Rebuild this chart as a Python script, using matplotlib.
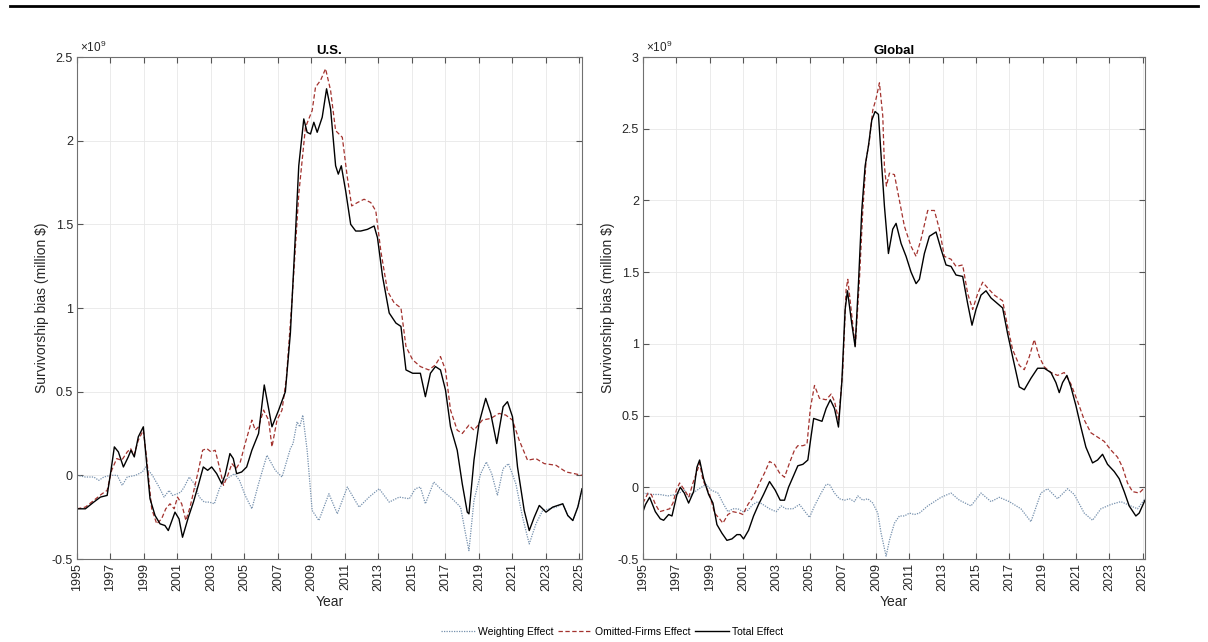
import numpy as np
import matplotlib
matplotlib.use("Agg")
import matplotlib.pyplot as plt
from matplotlib.lines import Line2D

plt.rcParams["font.family"] = ["Liberation Sans", "DejaVu Sans"]
plt.rcParams["axes.unicode_minus"] = False
plt.rcParams["mathtext.fontset"] = "custom"
plt.rcParams["mathtext.rm"] = "Liberation Sans"
plt.rcParams["mathtext.it"] = "Liberation Sans:italic"

# values are in units of 1e9 (million $)

# ---- U.S. ----
us_tot_x = [1995.0, 1995.5, 1996.0, 1996.4, 1996.8, 1997.03, 1997.23, 1997.47, 1997.77, 1998.06,
            1998.22, 1998.42, 1998.66, 1998.96, 1999.16, 1999.36, 1999.66, 1999.96, 2000.25, 2000.45,
            2000.85, 2001.09, 2001.3, 2001.65, 2001.95, 2002.24, 2002.54, 2002.8, 2003.04, 2003.34,
            2003.64, 2003.84, 2004.13, 2004.33, 2004.53, 2004.83, 2005.13, 2005.44, 2005.84, 2006.18,
            2006.64, 2007.04, 2007.44, 2007.74, 2008.04, 2008.24, 2008.54, 2008.74, 2008.94, 2009.14,
            2009.34, 2009.64, 2009.9, 2010.14, 2010.44, 2010.6, 2010.78, 2011.04, 2011.34, 2011.64,
            2011.94, 2012.34, 2012.74, 2012.94, 2013.24, 2013.64, 2014.04, 2014.34, 2014.64, 2015.04,
            2015.5, 2015.8, 2016.1, 2016.4, 2016.7, 2017.0, 2017.3, 2017.7, 2018.0, 2018.3,
            2018.4, 2018.7, 2019.0, 2019.4, 2019.7, 2020.06, 2020.44, 2020.7, 2021.0, 2021.3,
            2021.7, 2022.0, 2022.3, 2022.6, 2023.0, 2023.4, 2024.0, 2024.3, 2024.6, 2024.9,
            2025.15]
us_tot_y = [-0.20, -0.20, -0.16, -0.13, -0.12, 0.03, 0.17, 0.14, 0.05, 0.11,
            0.15, 0.11, 0.23, 0.29, 0.07, -0.14, -0.24, -0.29, -0.30, -0.33,
            -0.22, -0.26, -0.37, -0.25, -0.16, -0.06, 0.05, 0.03, 0.05, 0.01,
            -0.05, 0.0, 0.13, 0.10, 0.01, 0.02, 0.05, 0.15, 0.25, 0.54,
            0.29, 0.39, 0.50, 0.85, 1.44, 1.85, 2.13, 2.05, 2.04, 2.11,
            2.05, 2.14, 2.31, 2.19, 1.85, 1.80, 1.85, 1.70, 1.50, 1.46,
            1.46, 1.47, 1.49, 1.42, 1.19, 0.97, 0.91, 0.89, 0.63, 0.61,
            0.61, 0.47, 0.61, 0.65, 0.63, 0.51, 0.29, 0.15, -0.05, -0.22,
            -0.23, 0.09, 0.31, 0.46, 0.37, 0.19, 0.41, 0.44, 0.35, 0.05,
            -0.21, -0.33, -0.25, -0.18, -0.22, -0.19, -0.17, -0.24, -0.27, -0.19,
            -0.08]

us_omit_x = [1995.0, 1995.5, 1996.0, 1996.5, 1996.8, 1997.07, 1997.37, 1997.67, 1998.0, 1998.2,
             1998.4, 1998.66, 1998.96, 1999.16, 1999.46, 1999.76, 2000.05, 2000.3, 2000.55, 2000.8,
             2001.0, 2001.25, 2001.5, 2001.75, 2002.0, 2002.25, 2002.5, 2002.75, 2003.0, 2003.25,
             2003.5, 2003.75, 2004.0, 2004.25, 2004.5, 2004.75, 2005.04, 2005.44, 2005.64, 2005.84,
             2006.14, 2006.44, 2006.64, 2006.94, 2007.24, 2007.5, 2007.84, 2008.24, 2008.64, 2009.04,
             2009.24, 2009.54, 2009.84, 2010.14, 2010.44, 2010.84, 2011.14, 2011.4, 2011.74, 2012.14,
             2012.54, 2012.84, 2013.14, 2013.54, 2013.94, 2014.34, 2014.64, 2015.04, 2015.5, 2016.0,
             2016.4, 2016.7, 2017.0, 2017.3, 2017.7, 2018.0, 2018.4, 2018.7, 2019.2, 2019.7,
             2020.2, 2020.6, 2021.0, 2021.4, 2021.9, 2022.4, 2022.9, 2023.6, 2024.2, 2024.7,
             2025.15]
us_omit_y = [-0.20, -0.19, -0.15, -0.11, -0.09, 0.03, 0.10, 0.09, 0.14, 0.16,
             0.12, 0.21, 0.27, 0.10, -0.20, -0.29, -0.26, -0.20, -0.17, -0.20,
             -0.13, -0.17, -0.27, -0.19, -0.08, 0.03, 0.15, 0.16, 0.14, 0.15,
             0.05, -0.06, 0.0, 0.07, 0.04, 0.08, 0.19, 0.33, 0.27, 0.29,
             0.39, 0.33, 0.17, 0.33, 0.39, 0.58, 1.05, 1.68, 2.08, 2.18,
             2.32, 2.36, 2.43, 2.30, 2.06, 2.02, 1.78, 1.61, 1.63, 1.65,
             1.63, 1.58, 1.34, 1.10, 1.03, 1.00, 0.77, 0.69, 0.65, 0.63,
             0.66, 0.71, 0.63, 0.39, 0.27, 0.25, 0.30, 0.27, 0.33, 0.34,
             0.37, 0.36, 0.33, 0.21, 0.09, 0.10, 0.07, 0.06, 0.02, 0.01,
             0.0]

us_wgt_x = [1995.0, 1995.5, 1996.0, 1996.3, 1996.6, 1997.0, 1997.4, 1997.7, 1998.0, 1998.5,
            1998.9, 1999.1, 1999.5, 1999.9, 2000.2, 2000.5, 2000.7, 2001.0, 2001.2, 2001.4,
            2001.7, 2002.0, 2002.3, 2002.6, 2002.9, 2003.2, 2003.5, 2003.8, 2004.1, 2004.4,
            2004.7, 2005.04, 2005.44, 2005.84, 2006.34, 2006.84, 2007.24, 2007.74, 2007.9, 2008.14,
            2008.3, 2008.48, 2008.74, 2009.04, 2009.44, 2010.04, 2010.54, 2011.14, 2011.84, 2012.44,
            2013.04, 2013.64, 2014.24, 2014.84, 2015.2, 2015.5, 2015.8, 2016.3, 2016.8, 2017.4,
            2017.9, 2018.2, 2018.4, 2018.7, 2019.1, 2019.44, 2019.76, 2020.1, 2020.44, 2020.76,
            2021.2, 2021.6, 2022.0, 2022.4, 2022.8, 2023.6, 2024.0, 2024.3, 2024.6, 2024.9,
            2025.15]
us_wgt_y = [0.0, -0.01, -0.01, -0.03, -0.01, 0.0, 0.0, -0.06, -0.01, 0.0,
            0.02, 0.05, 0.0, -0.07, -0.13, -0.09, -0.12, -0.11, -0.10, -0.07,
            -0.01, -0.05, -0.13, -0.16, -0.16, -0.17, -0.08, -0.03, -0.01, 0.01,
            -0.03, -0.12, -0.20, -0.05, 0.12, 0.03, -0.01, 0.16, 0.19, 0.32,
            0.29, 0.36, 0.15, -0.21, -0.27, -0.11, -0.23, -0.07, -0.19, -0.13,
            -0.08, -0.16, -0.13, -0.14, -0.08, -0.07, -0.17, -0.04, -0.09, -0.14,
            -0.19, -0.35, -0.45, -0.15, 0.01, 0.08, 0.01, -0.12, 0.04, 0.07,
            -0.05, -0.25, -0.41, -0.29, -0.21, -0.19, -0.17, -0.24, -0.27, -0.19,
            -0.09]

# ---- Global ----
gl_tot_x = [1995.0, 1995.15, 1995.4, 1995.74, 1996.04, 1996.24, 1996.54, 1996.74, 1997.04, 1997.24,
            1997.48, 1997.74, 1998.04, 1998.24, 1998.4, 1998.64, 1998.94, 1999.2, 1999.44, 1999.74,
            2000.04, 2000.34, 2000.64, 2000.84, 2001.04, 2001.34, 2001.64, 2001.94, 2002.24, 2002.6,
            2002.94, 2003.24, 2003.5, 2003.74, 2004.04, 2004.3, 2004.6, 2004.9, 2005.1, 2005.25,
            2005.5, 2005.75, 2006.0, 2006.25, 2006.5, 2006.74, 2006.94, 2007.14, 2007.28, 2007.54,
            2007.74, 2007.94, 2008.14, 2008.34, 2008.54, 2008.74, 2008.94, 2009.14, 2009.34, 2009.5,
            2009.74, 2010.0, 2010.2, 2010.5, 2010.8, 2011.1, 2011.4, 2011.6, 2011.9, 2012.2,
            2012.6, 2012.9, 2013.2, 2013.5, 2013.8, 2014.2, 2014.5, 2014.76, 2015.0, 2015.3,
            2015.6, 2015.9, 2016.3, 2016.6, 2016.9, 2017.2, 2017.6, 2017.9, 2018.3, 2018.7,
            2019.1, 2019.5, 2019.8, 2020.0, 2020.2, 2020.46, 2020.7, 2021.0, 2021.3, 2021.6,
            2022.0, 2022.3, 2022.6, 2022.9, 2023.3, 2023.6, 2023.9, 2024.2, 2024.6, 2024.8,
            2025.15]
gl_tot_y = [-0.17, -0.12, -0.07, -0.17, -0.22, -0.23, -0.19, -0.20, -0.05, 0.0,
            -0.04, -0.11, -0.03, 0.14, 0.19, 0.06, -0.05, -0.11, -0.26, -0.32,
            -0.37, -0.36, -0.33, -0.33, -0.36, -0.30, -0.20, -0.12, -0.05, 0.04,
            -0.02, -0.09, -0.09, 0.0, 0.08, 0.15, 0.16, 0.19, 0.36, 0.48,
            0.47, 0.46, 0.55, 0.61, 0.55, 0.42, 0.73, 1.24, 1.37, 1.14,
            0.98, 1.42, 1.93, 2.24, 2.38, 2.56, 2.62, 2.60, 2.24, 1.96,
            1.63, 1.80, 1.84, 1.70, 1.61, 1.50, 1.42, 1.45, 1.63, 1.75,
            1.78, 1.66, 1.55, 1.54, 1.48, 1.47, 1.28, 1.13, 1.24, 1.34,
            1.37, 1.32, 1.28, 1.25, 1.07, 0.91, 0.70, 0.68, 0.76, 0.83,
            0.83, 0.80, 0.73, 0.66, 0.73, 0.78, 0.70, 0.57, 0.42, 0.28,
            0.17, 0.19, 0.23, 0.16, 0.11, 0.06, -0.03, -0.13, -0.20, -0.18,
            -0.09]

gl_omit_x = [1995.0, 1995.3, 1995.5, 1995.75, 1996.0, 1996.3, 1996.6, 1996.8, 1997.0, 1997.2,
             1997.5, 1997.75, 1998.0, 1998.3, 1998.4, 1998.6, 1999.0, 1999.3, 1999.6, 1999.8,
             2000.1, 2000.4, 2000.8, 2001.0, 2001.3, 2001.6, 2002.0, 2002.3, 2002.6, 2002.9,
             2003.2, 2003.5, 2003.8, 2004.1, 2004.3, 2004.6, 2004.85, 2005.05, 2005.3, 2005.6,
             2006.0, 2006.3, 2006.5, 2006.75, 2007.0, 2007.2, 2007.3, 2007.5, 2007.75, 2008.0,
             2008.2, 2008.4, 2008.6, 2008.8, 2009.0, 2009.2, 2009.4, 2009.5, 2009.62, 2009.8,
             2010.1, 2010.4, 2010.7, 2011.1, 2011.4, 2011.7, 2012.1, 2012.5, 2012.8, 2013.1,
             2013.5, 2013.8, 2014.2, 2014.5, 2014.8, 2015.1, 2015.4, 2015.7, 2016.1, 2016.6,
             2016.9, 2017.2, 2017.6, 2017.9, 2018.2, 2018.5, 2018.8, 2019.1, 2019.5, 2019.9,
             2020.3, 2020.7, 2021.1, 2021.5, 2021.9, 2022.3, 2022.7, 2023.1, 2023.5, 2023.8,
             2024.1, 2024.4, 2024.8, 2025.15]
gl_omit_y = [-0.11, -0.04, -0.05, -0.12, -0.17, -0.16, -0.15, -0.11, -0.02, 0.03,
             -0.02, -0.07, 0.03, 0.13, 0.17, 0.05, -0.05, -0.18, -0.22, -0.25,
             -0.19, -0.17, -0.18, -0.19, -0.12, -0.07, 0.03, 0.10, 0.18, 0.16,
             0.10, 0.07, 0.17, 0.26, 0.29, 0.29, 0.30, 0.55, 0.71, 0.62,
             0.61, 0.65, 0.60, 0.47, 0.82, 1.38, 1.45, 1.24, 0.98, 1.45,
             1.93, 2.28, 2.42, 2.63, 2.71, 2.82, 2.59, 2.24, 2.10, 2.19,
             2.18, 2.00, 1.82, 1.68, 1.61, 1.73, 1.93, 1.93, 1.80, 1.61,
             1.59, 1.54, 1.55, 1.35, 1.24, 1.35, 1.43, 1.39, 1.34, 1.30,
             1.12, 0.96, 0.85, 0.82, 0.91, 1.03, 0.91, 0.84, 0.80, 0.78,
             0.80, 0.72, 0.60, 0.47, 0.38, 0.35, 0.32, 0.26, 0.21, 0.14,
             0.03, -0.03, -0.04, 0.0]

gl_wgt_x = [1995.0, 1995.5, 1996.0, 1996.5, 1997.0, 1997.5, 1997.75, 1998.0, 1998.5, 1998.8,
            1999.1, 1999.5, 1999.8, 2000.1, 2000.4, 2000.7, 2001.0, 2001.3, 2001.6, 2001.9,
            2002.2, 2002.6, 2003.0, 2003.3, 2003.6, 2004.0, 2004.4, 2004.8, 2005.0, 2005.3,
            2005.7, 2006.0, 2006.2, 2006.5, 2006.8, 2007.1, 2007.4, 2007.7, 2007.9, 2008.2,
            2008.5, 2008.8, 2009.1, 2009.3, 2009.6, 2009.8, 2010.1, 2010.4, 2010.7, 2011.0,
            2011.3, 2011.6, 2012.1, 2012.5, 2012.9, 2013.5, 2014.0, 2014.7, 2015.3, 2015.9,
            2016.4, 2017.0, 2017.7, 2018.3, 2018.9, 2019.3, 2019.9, 2020.5, 2020.9, 2021.5,
            2022.0, 2022.5, 2023.1, 2023.7, 2024.3, 2024.7, 2025.15]
gl_wgt_y = [-0.04, -0.05, -0.05, -0.06, -0.05, -0.02, -0.07, -0.04, 0.0, 0.02,
            -0.02, -0.04, -0.11, -0.17, -0.15, -0.15, -0.17, -0.16, -0.12, -0.10,
            -0.12, -0.15, -0.17, -0.13, -0.15, -0.15, -0.12, -0.18, -0.21, -0.13,
            -0.04, 0.02, 0.02, -0.04, -0.08, -0.09, -0.08, -0.10, -0.06, -0.09,
            -0.08, -0.11, -0.18, -0.32, -0.48, -0.37, -0.25, -0.20, -0.20, -0.18,
            -0.19, -0.18, -0.13, -0.10, -0.07, -0.04, -0.09, -0.13, -0.04, -0.10,
            -0.07, -0.10, -0.15, -0.24, -0.04, -0.01, -0.08, -0.01, -0.05, -0.18,
            -0.23, -0.15, -0.12, -0.10, -0.13, -0.15, -0.08]

year_ticks = list(range(1995, 2026, 2))
us_yticks = [-0.5, 0, 0.5, 1, 1.5, 2, 2.5]
gl_yticks = [-0.5, 0, 0.5, 1, 1.5, 2, 2.5, 3]

W, H = 1208, 642
fig = plt.figure(figsize=(W / 100, H / 100), dpi=100)

# rule across the top
fig.add_artist(Line2D([10 / W, 1198 / W], [1 - 6 / H, 1 - 6 / H], color="black", lw=2,
                      transform=fig.transFigure))

ax1 = fig.add_axes([77 / W, 1 - 559 / H, 505 / W, 502 / H])
ax2 = fig.add_axes([643 / W, 1 - 559 / H, 502 / W, 502 / H])


def draw_panel(ax, title, yticks, wx, wy, ox, oy, tx, ty):
    ax.plot(wx, wy, linestyle=(0, (1, 1)), color="#7590ad", lw=0.9, label="Weighting Effect")
    ax.plot(ox, oy, linestyle=(0, (3.5, 2)), color="#a3322e", lw=0.9, label="Omitted-Firms Effect")
    ax.plot(tx, ty, linestyle="-", color="black", lw=1.0, label="Total Effect")
    ax.set_xlim(1995, 2025.15)
    ax.set_ylim(yticks[0], yticks[-1])
    ax.set_xticks(year_ticks)
    ax.set_xticklabels([str(y) for y in year_ticks], rotation=90)
    ax.set_yticks(yticks)
    ax.set_yticklabels(["%g" % v for v in yticks])
    ax.grid(True, color="#e8e8e8", lw=0.6)
    ax.set_axisbelow(True)
    ax.tick_params(direction="in", top=True, right=True, length=4, width=0.8,
                   color="#555555", labelsize=9, labelcolor="#262626", pad=3)
    for s in ax.spines.values():
        s.set_color("#707070")
        s.set_linewidth(0.8)
    ax.set_title(title, fontsize=9.5, fontweight="bold", pad=2)
    ax.set_xlabel("Year", fontsize=10, color="#262626", labelpad=3)
    ax.set_ylabel("Survivorship bias (million $)", fontsize=10, color="#262626", labelpad=2)
    ax.text(0.006, 1.004, r"$\times10^{9}$", transform=ax.transAxes, fontsize=8.5,
            color="#262626", va="bottom", ha="left")


draw_panel(ax1, "U.S.", us_yticks, us_wgt_x, us_wgt_y, us_omit_x, us_omit_y, us_tot_x, us_tot_y)
draw_panel(ax2, "Global", gl_yticks, gl_wgt_x, gl_wgt_y, gl_omit_x, gl_omit_y, gl_tot_x, gl_tot_y)

handles, labels = ax1.get_legend_handles_labels()
fig.legend(handles, labels, loc="center", bbox_to_anchor=(612 / W, 1 - 632 / H), ncol=3,
           frameon=False, fontsize=7.5, handlelength=3.3, handletextpad=0.3, columnspacing=0.4)

fig.savefig("out.png", dpi=100)
